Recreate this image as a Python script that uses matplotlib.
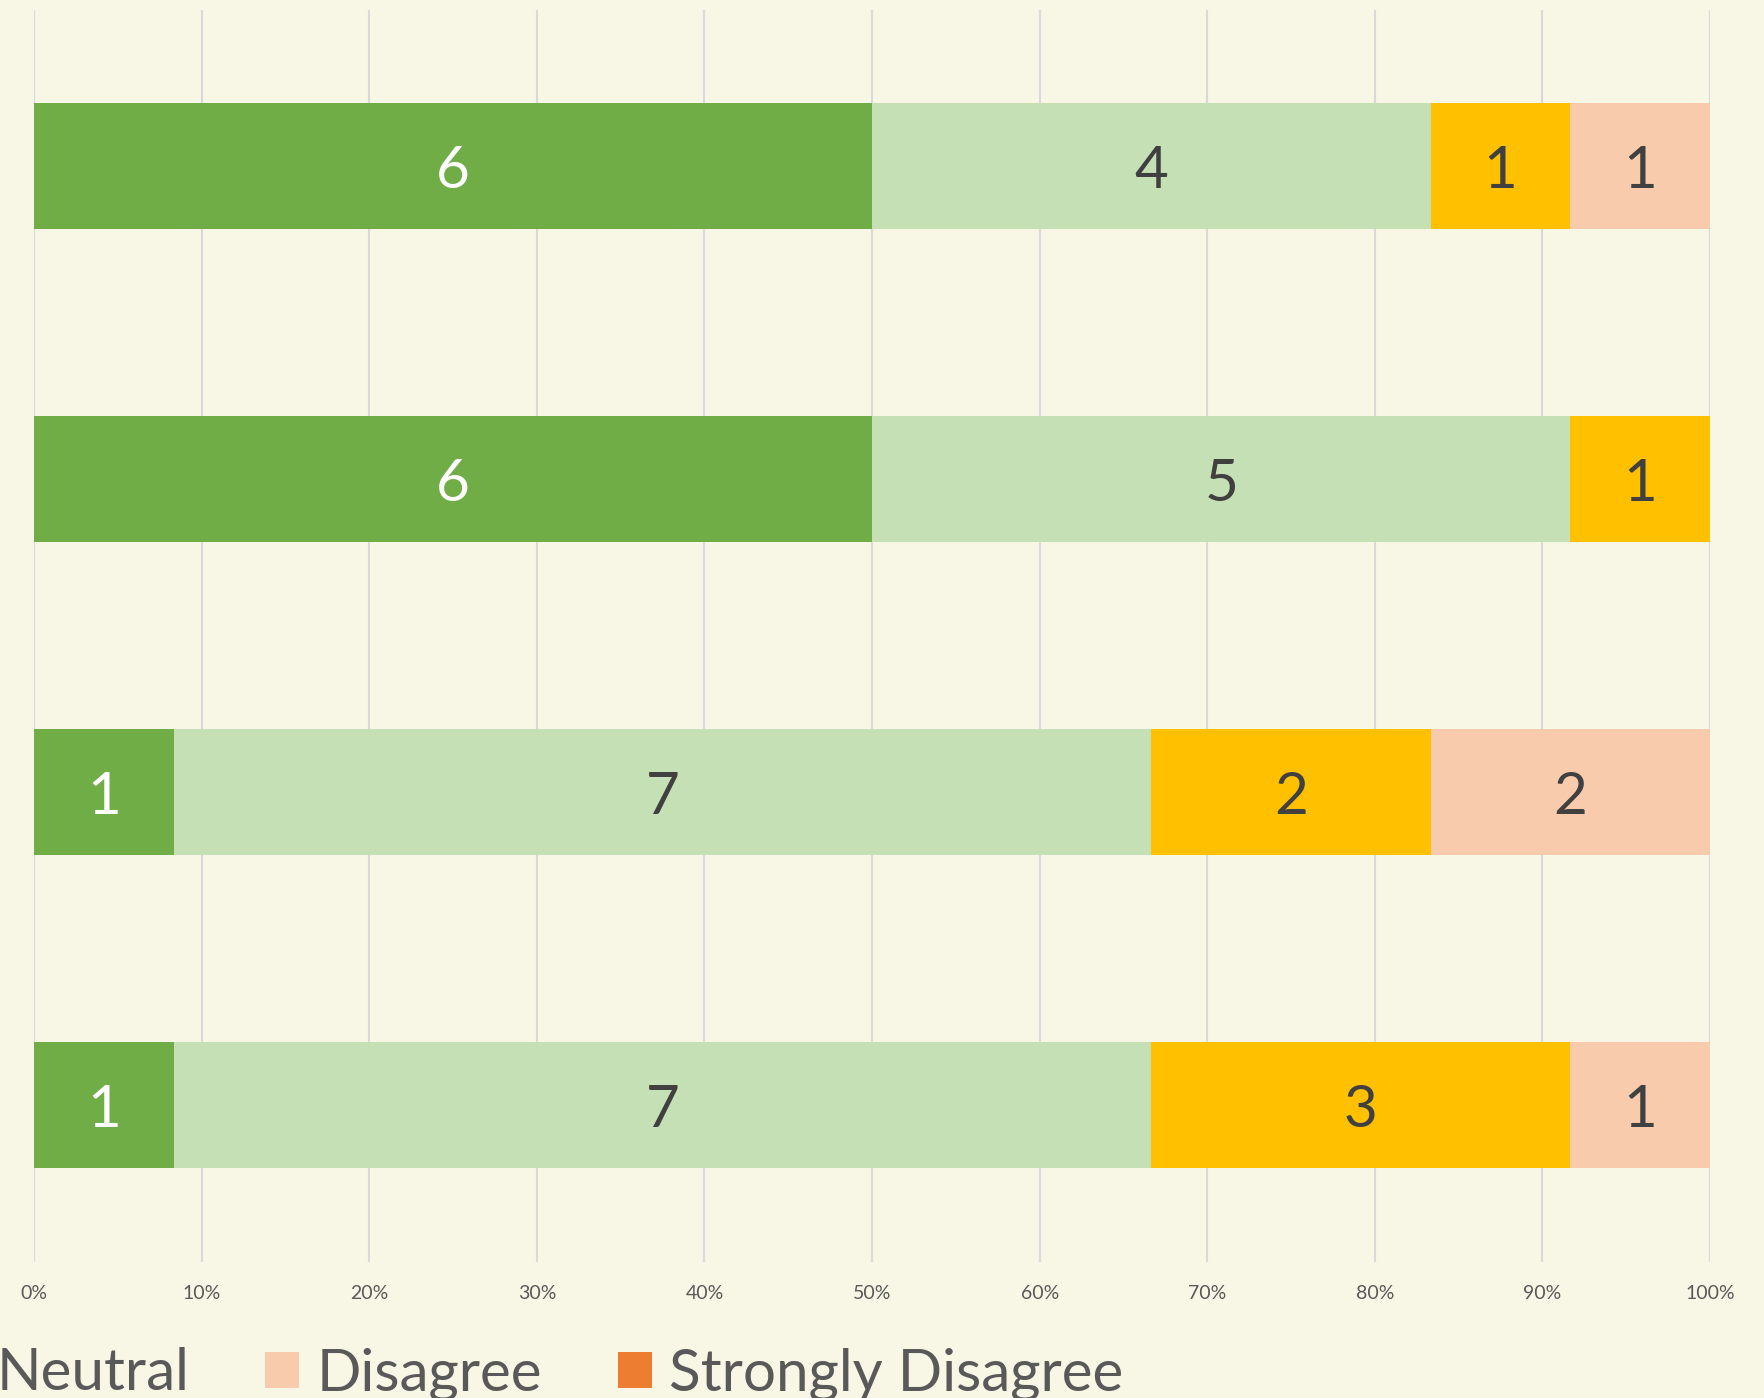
import numpy as np
import matplotlib
matplotlib.use("Agg")
import matplotlib.pyplot as plt

## Survey responses per question (counts), top row first
#
questions = ["Q1", "Q2", "Q3", "Q4"]
labels = ["Strongly Agree", "Agree", "Neutral", "Disagree", "Strongly Disagree"]
strongly_agree = [6, 6, 1, 1]
agree = [4, 5, 7, 7]
neutral = [1, 1, 2, 3]
disagree = [1, 0, 2, 1]
strongly_disagree = [0, 0, 0, 0]

colors = ["#70AD47", "#C5E0B4", "#FFC000", "#F8CBAD", "#ED7D31"]
text_colors = ["white", "#404040", "#404040", "#404040", "#404040"]
bg = "#F8F7E5"

plt.rcParams['font.family'] = ['Lato', 'DejaVu Sans']

series = np.array([strongly_agree, agree, neutral, disagree, strongly_disagree], dtype=float)
totals = series.sum(axis=0)
pct = series / totals * 100

fig = plt.figure(figsize=(17.64, 13.98), dpi=100, facecolor=bg)
ax = fig.add_axes([0.0193, 0.0976, 0.9501, 0.8956])
ax.set_facecolor(bg)

pos = np.arange(len(questions))
left = np.zeros(len(questions))
for i in range(0, len(labels)):
    bars = ax.barh(pos, pct[i], left=left, height=0.4, color=colors[i], label=labels[i], zorder=3)
    for j in range(0, len(questions)):
        if series[i][j] > 0:
            ax.text(left[j] + pct[i][j] / 2, pos[j], "%d" % series[i][j], ha='center', va='center_baseline',
                    fontsize=42, color=text_colors[i], zorder=4)
    left += pct[i]

ax.set_xlim(0, 100)
ax.set_ylim(len(questions) - 0.5, -0.5)
ax.set_yticks([])
ax.set_xticks(np.arange(0, 101, 10))
ax.set_xticklabels(["%d%%" % v for v in range(0, 101, 10)], fontsize=14, color="#595959")
ax.tick_params(axis='x', length=0, pad=17)
ax.grid(axis='x', color="#D9D9D9", linewidth=1.5, zorder=0)
for s in ax.spines.values():
    s.set_visible(False)

# legend is partly cut off on the left in the original
fig.legend(loc='center right', bbox_to_anchor=(0.637, 0.017), ncol=5, frameon=False,
           fontsize=42, handlelength=0.58, handleheight=0.58, handletextpad=0.3,
           columnspacing=1.3, borderpad=0, borderaxespad=0, labelcolor="#595959")

fig.savefig("out.png", dpi=100, facecolor=bg)
